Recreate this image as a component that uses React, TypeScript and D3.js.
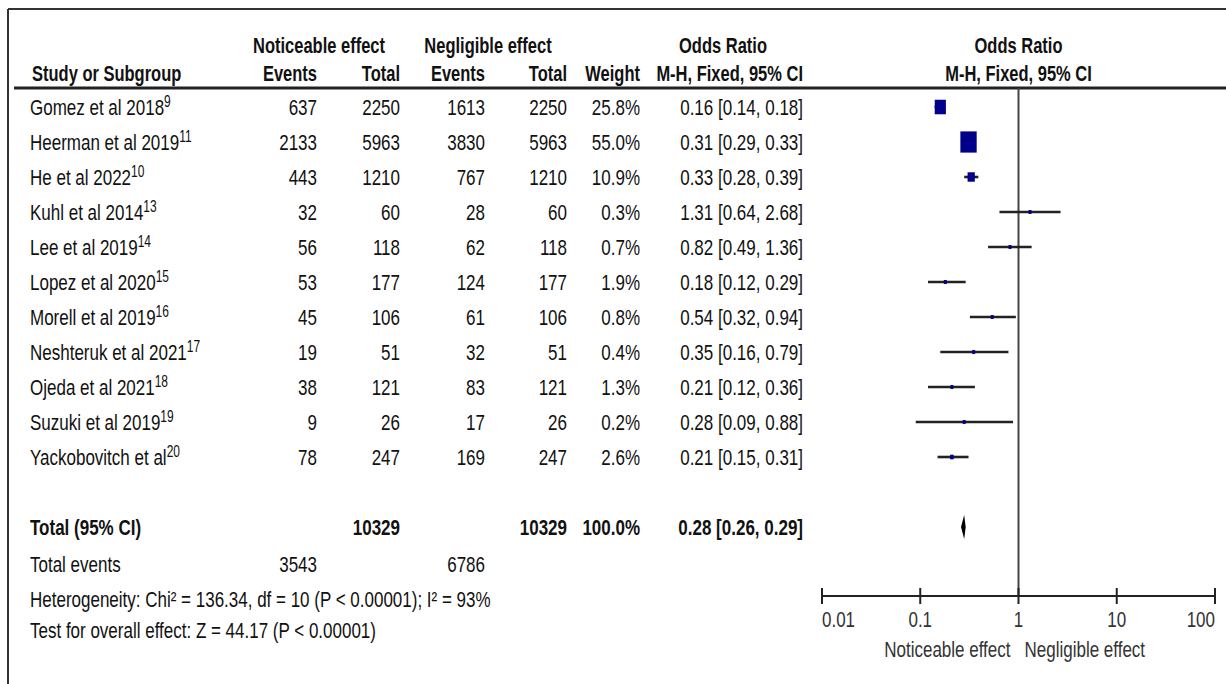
import React from 'react';
import * as d3 from 'd3';

// study rows
const studies = [
  'Gomez et al 2018', 'Heerman et al 2019', 'He et al 2022', 'Kuhl et al 2014',
  'Lee et al 2019', 'Lopez et al 2020', 'Morell et al 2019', 'Neshteruk et al 2021',
  'Ojeda et al 2021', 'Suzuki et al 2019', 'Yackobovitch et al',
];
const refs = ['9', '11', '10', '13', '14', '15', '16', '17', '18', '19', '20'];
const noticeableEvents = [637, 2133, 443, 32, 56, 53, 45, 19, 38, 9, 78];
const noticeableTotal = [2250, 5963, 1210, 60, 118, 177, 106, 51, 121, 26, 247];
const negligibleEvents = [1613, 3830, 767, 28, 62, 124, 61, 32, 83, 17, 169];
const negligibleTotal = [2250, 5963, 1210, 60, 118, 177, 106, 51, 121, 26, 247];
const weights = [25.8, 55.0, 10.9, 0.3, 0.7, 1.9, 0.8, 0.4, 1.3, 0.2, 2.6];
const oddsRatio = [0.16, 0.31, 0.33, 1.31, 0.82, 0.18, 0.54, 0.35, 0.21, 0.28, 0.21];
const ciLow = [0.14, 0.29, 0.28, 0.64, 0.49, 0.12, 0.32, 0.16, 0.12, 0.09, 0.15];
const ciHigh = [0.18, 0.33, 0.39, 2.68, 1.36, 0.29, 0.94, 0.79, 0.36, 0.88, 0.31];

// pooled result
const pooledTotals = [10329, 10329];
const pooledEvents = [3543, 6786];
const pooledOR = [0.28, 0.26, 0.29];
const axisTicks = [0.01, 0.1, 1, 10, 100];
const axisTickLabels = ['0.01', '0.1', '1', '10', '100'];

const SY = 1.3; // the figure is stretched vertically
const FONT = '"Liberation Sans", Arial, sans-serif';

function T({ x, y, children, anchor = 'start', bold = false, size = 17, fill = '#111' }: any) {
  const base = y + 0.36 * size * SY;
  return (
    <text
      transform={`translate(${x},${base}) scale(1,${SY})`}
      textAnchor={anchor}
      fontWeight={bold ? 'bold' : 'normal'}
      fontSize={size}
      fill={fill}
    >
      {children}
    </text>
  );
}

const f2 = (v: number) => v.toFixed(2);

export default function App() {
  const x = d3.scaleLog().domain([0.01, 100]).range([822, 1215]);
  const y = d3.scalePoint<string>().domain(studies).range([107, 457]);
  const side = d3.scaleSqrt().domain([0, 100]).range([0, 22]);

  const colNEvents = 317, colNTotal = 400, colGEvents = 485, colGTotal = 567;
  const colWeight = 640, colOR = 803;
  const totalY = 527, eventsY = 564, hetY = 599, testY = 630;
  const axisY = 596;
  const one = x(1);

  return (
    <svg width={1226} height={684} style={{ position: 'absolute', left: 0, top: 0, background: '#fff' }} fontFamily={FONT}>
      <rect width={1226} height={684} fill="#fff" />
      {/* frame */}
      <line x1={8} x2={1226} y1={9} y2={9} stroke="#333" strokeWidth={2} />
      <line x1={8} x2={8} y1={9} y2={684} stroke="#333" strokeWidth={2} />

      {/* headers */}
      <T x={319} y={45} anchor="middle" bold size={16.5}>Noticeable effect</T>
      <T x={488} y={45} anchor="middle" bold size={16.5}>Negligible effect</T>
      <T x={723} y={45} anchor="middle" bold size={16.5}>Odds Ratio</T>
      <T x={one} y={45} anchor="middle" bold size={16.5}>Odds Ratio</T>
      <T x={32} y={73} bold size={16.5}>Study or Subgroup</T>
      <T x={colNEvents} y={73} anchor="end" bold size={16.5}>Events</T>
      <T x={colNTotal} y={73} anchor="end" bold size={16.5}>Total</T>
      <T x={colGEvents} y={73} anchor="end" bold size={16.5}>Events</T>
      <T x={colGTotal} y={73} anchor="end" bold size={16.5}>Total</T>
      <T x={colWeight} y={73} anchor="end" bold size={16.5}>Weight</T>
      <T x={colOR} y={73} anchor="end" bold size={16.5}>M-H, Fixed, 95% CI</T>
      <T x={one} y={73} anchor="middle" bold size={16.5}>M-H, Fixed, 95% CI</T>
      <line x1={14} x2={1226} y1={88} y2={88} stroke="#222" strokeWidth={3} />

      {/* study rows */}
      {studies.map((s, i) => {
        const yy = y(s) as number;
        return (
          <g key={s}>
            <T x={30} y={yy}>
              {s}
              <tspan fontSize={12} dy={-6}>{refs[i]}</tspan>
            </T>
            <T x={colNEvents} y={yy} anchor="end">{noticeableEvents[i]}</T>
            <T x={colNTotal} y={yy} anchor="end">{noticeableTotal[i]}</T>
            <T x={colGEvents} y={yy} anchor="end">{negligibleEvents[i]}</T>
            <T x={colGTotal} y={yy} anchor="end">{negligibleTotal[i]}</T>
            <T x={colWeight} y={yy} anchor="end">{weights[i].toFixed(1)}%</T>
            <T x={colOR} y={yy} anchor="end">{`${f2(oddsRatio[i])} [${f2(ciLow[i])}, ${f2(ciHigh[i])}]`}</T>
          </g>
        );
      })}

      {/* reference line */}
      <line x1={one} x2={one} y1={88} y2={axisY} stroke="#444" strokeWidth={2} />

      {/* CI lines and squares */}
      {studies.map((s, i) => {
        const yy = y(s) as number;
        const w = Math.max(3, side(weights[i]));
        const h = Math.max(3, w * 1.3);
        return (
          <g key={'m' + s}>
            <line x1={x(ciLow[i])} x2={x(ciHigh[i])} y1={yy} y2={yy} stroke="#222" strokeWidth={2.6} />
            <rect x={x(oddsRatio[i]) - w / 2} y={yy - h / 2} width={w} height={h} fill="#00008b" />
          </g>
        );
      })}

      {/* total row */}
      <T x={30} y={totalY} bold>Total (95% CI)</T>
      <T x={colNTotal} y={totalY} anchor="end" bold>{pooledTotals[0]}</T>
      <T x={colGTotal} y={totalY} anchor="end" bold>{pooledTotals[1]}</T>
      <T x={colWeight} y={totalY} anchor="end" bold>100.0%</T>
      <T x={colOR} y={totalY} anchor="end" bold>{`${f2(pooledOR[0])} [${f2(pooledOR[1])}, ${f2(pooledOR[2])}]`}</T>
      <path
        d={`M${x(pooledOR[1])},${totalY} L${x(pooledOR[0])},${totalY - 12} L${x(pooledOR[2])},${totalY} L${x(pooledOR[0])},${totalY + 12} Z`}
        fill="#000"
      />

      <T x={30} y={eventsY}>Total events</T>
      <T x={colNEvents} y={eventsY} anchor="end">{pooledEvents[0]}</T>
      <T x={colGEvents} y={eventsY} anchor="end">{pooledEvents[1]}</T>
      <T x={30} y={hetY}>Heterogeneity: Chi² = 136.34, df = 10 (P &lt; 0.00001); I² = 93%</T>
      <T x={30} y={testY}>Test for overall effect: Z = 44.17 (P &lt; 0.00001)</T>

      {/* axis */}
      <line x1={x(0.01)} x2={x(100)} y1={axisY} y2={axisY} stroke="#222" strokeWidth={2} />
      {axisTicks.map((t, i) => (
        <g key={'t' + t}>
          <line x1={x(t)} x2={x(t)} y1={axisY - 8} y2={axisY + 8} stroke="#222" strokeWidth={2} />
          <T
            x={x(t)}
            y={619}
            anchor={i === 0 ? 'start' : i === axisTicks.length - 1 ? 'end' : 'middle'}
            fill="#333"
          >
            {axisTickLabels[i]}
          </T>
        </g>
      ))}
      <T x={one - 8} y={649} anchor="end" fill="#333">Noticeable effect</T>
      <T x={one + 6} y={649} fill="#333">Negligible effect</T>
    </svg>
  );
}
